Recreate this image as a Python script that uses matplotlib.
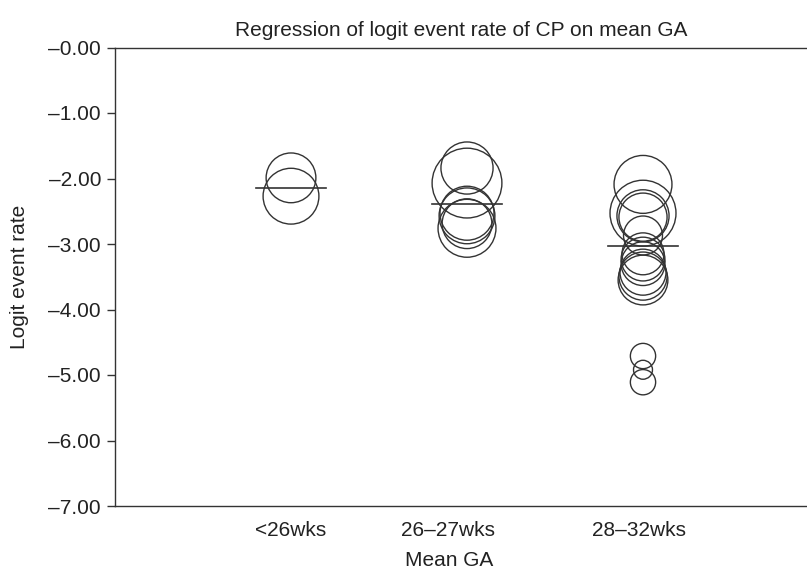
import matplotlib
matplotlib.use("Agg")
import matplotlib.pyplot as plt
import numpy as np

plt.rcParams['font.family'] = ['Liberation Sans', 'DejaVu Sans']

# ---- data ----
title = "Regression of logit event rate of CP on mean GA"
categories = ["<26wks", "26\u201327wks", "28\u201332wks"]
tick_positions = [1.0, 1.89, 2.98]

# study-level points: group index (x), logit event rate (y), weight
group1_y = [-1.99, -2.27]
group1_w = [62, 78]
group2_y = [-1.84, -2.07, -2.53, -2.57, -2.69, -2.76]
group2_w = [68, 122, 73, 78, 62, 84]
group3_y = [-2.09, -2.53, -2.57, -2.59, -2.87, -3.15, -3.23, -3.30,
            -3.43, -3.49, -3.55, -4.71, -4.92, -5.11]
group3_w = [84, 109, 68, 58, 38, 44, 48, 48, 53, 58, 62, 16, 9, 16]

# fitted (regression) values per group
fitted = [-2.15, -2.39, -3.03]

yticks = [0, -1, -2, -3, -4, -5, -6, -7]
ytick_labels = ["\u20130.00", "\u20131.00", "\u20132.00", "\u20133.00",
                "\u20134.00", "\u20135.00", "\u20136.00", "\u20137.00"]

# ---- figure ----
W, H = 807, 573
fig = plt.figure(figsize=(W / 100, H / 100), dpi=100)
ax = fig.add_axes([115 / W, (H - 506) / H, (W - 115) / W, (506 - 47.5) / H])

col = '#333333'
txt = '#222222'
fs = 15
groups = [(1, group1_y, group1_w), (2, group2_y, group2_w), (3, group3_y, group3_w)]
for x, ys, ws in groups:
    ax.scatter([x] * len(ys), ys, s=np.array(ws) * 20.7, facecolors='none',
               edgecolors=col, linewidths=1.0, zorder=3)

for i, f in enumerate(fitted):
    x = i + 1
    ax.plot([x - 0.2, x + 0.2], [f, f], color=col, lw=1.2, zorder=4)

ax.set_xlim(0, (W - 115) / 176)
ax.set_ylim(-7, 0)

ax.set_yticks(yticks)
ax.set_yticklabels(ytick_labels, fontsize=fs, color=txt)
ax.set_xticks(tick_positions)
ax.set_xticklabels(categories, fontsize=fs, color=txt)
ax.tick_params(axis='x', length=0, pad=11)
ax.tick_params(axis='y', length=6, width=1.0, color=col, pad=4)

for s in ['left', 'top', 'bottom']:
    ax.spines[s].set_color(col)
    ax.spines[s].set_linewidth(1.0)
ax.spines['right'].set_visible(False)

ax.set_title(title, fontsize=fs, color=txt, pad=8)
ax.set_ylabel("Logit event rate", fontsize=fs, color=txt)
ax.yaxis.label.set_va('center')
ax.yaxis.set_label_coords(-(115 - 20) / (W - 115), 0.5)
ax.set_xlabel("Mean GA", fontsize=fs, color=txt)
ax.xaxis.label.set_va('center')
ax.xaxis.set_label_coords((449 - 115) / (W - 115), -(561 - 506) / (506 - 47.5))

fig.savefig("out.png", dpi=100)
